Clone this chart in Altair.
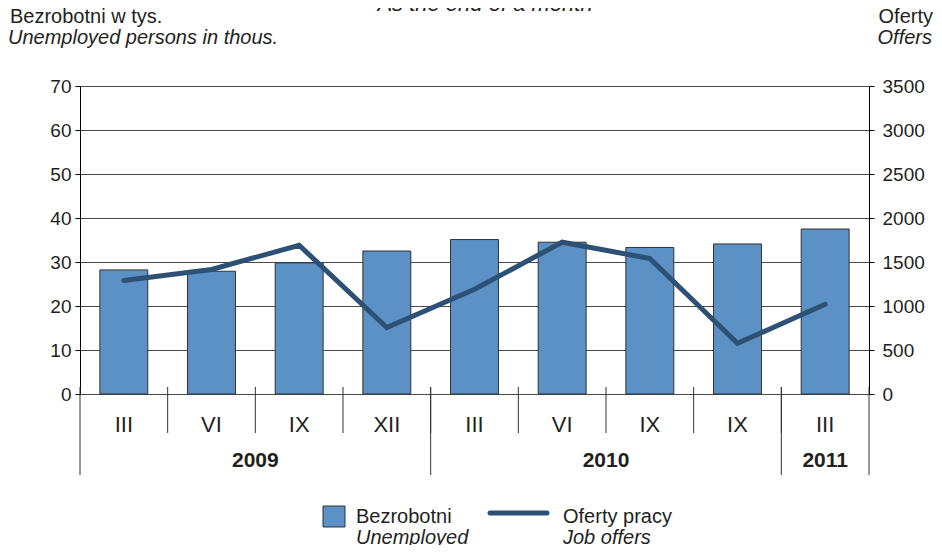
import altair as alt
import pandas as pd

# ---- data ----
keys = ["k1", "k2", "k3", "k4", "k5", "k6", "k7", "k8", "k9"]
months = ["III", "VI", "IX", "XII", "III", "VI", "IX", "IX", "III"]
unemployed = [28.2, 27.9, 29.8, 32.5, 35.1, 34.5, 33.3, 34.1, 37.5]
job_offers = [1290, 1415, 1690, 755, 1190, 1725, 1540, 575, 1020]
year_labels_mid = ["2009", "2010"]
year_keys_mid = ["k3", "k7"]          # label centred on the boundary before these
year_labels_ctr = ["2011"]
year_keys_ctr = ["k9"]                # label centred on this category
month_sep_keys = keys[1:]
year_sep_keys = ["k1", "k5", "k9"]
left_ticks = [0, 10, 20, 30, 40, 50, 60, 70]
right_ticks = [0, 500, 1000, 1500, 2000, 2500, 3000, 3500]

TXT = "#231f20"
BAR = "#5b91c5"
LINE = "#2d5175"
FONT = "Liberation Sans"

df = pd.DataFrame({"key": keys, "month": months, "unemp": unemployed, "offers": job_offers})

xscale = alt.Scale(paddingInner=0, paddingOuter=0)


def X(bp=None):
    if bp is None:
        return alt.X("key:N", sort=keys, scale=xscale, axis=None)
    return alt.X("key:N", sort=keys, scale=xscale, axis=None, bandPosition=bp)


bars = alt.Chart(df).mark_bar(
    width={"band": 0.547}, color=BAR, stroke="#333333", strokeWidth=1
).encode(
    x=X(),
    y=alt.Y(
        "unemp:Q",
        scale=alt.Scale(domain=[0, 70], nice=False),
        axis=alt.Axis(
            values=left_ticks, title=None, grid=True, gridColor="#4a4a4a", gridWidth=1,
            tickSize=5, labelPadding=4, domainColor="#000000", tickColor="#000000",
        ),
    ),
)

line = alt.Chart(df).mark_line(color=LINE, strokeWidth=5, strokeCap="round").encode(
    x=X(),
    y=alt.Y(
        "offers:Q",
        scale=alt.Scale(domain=[0, 3500], nice=False),
        axis=alt.Axis(
            orient="right", values=right_ticks, format="d", title=None, grid=False,
            tickSize=5, labelPadding=8, domainColor="#000000", tickColor="#000000",
        ),
    ),
)

month_text = alt.Chart(df).mark_text(fontSize=22, color=TXT, baseline="alphabetic").encode(
    x=X(), y=alt.value(346), text="month:N"
)

month_seps = alt.Chart(pd.DataFrame({"key": month_sep_keys})).mark_rule(color="#333333").encode(
    x=X(0), y=alt.value(301), y2=alt.value(347)
)
year_seps = alt.Chart(pd.DataFrame({"key": year_sep_keys})).mark_rule(color="#333333").encode(
    x=X(0), y=alt.value(301), y2=alt.value(389)
)
right_edge = alt.Chart(pd.DataFrame({"key": ["k9"]})).mark_rule(color="#333333").encode(
    x=X(1), y=alt.value(301), y2=alt.value(389)
)

year_mid = alt.Chart(pd.DataFrame({"key": year_keys_mid, "year": year_labels_mid})).mark_text(
    fontSize=21, fontWeight="bold", color=TXT, baseline="alphabetic"
).encode(x=X(0), y=alt.value(381), text="year:N")
year_ctr = alt.Chart(pd.DataFrame({"key": year_keys_ctr, "year": year_labels_ctr})).mark_text(
    fontSize=21, fontWeight="bold", color=TXT, baseline="alphabetic"
).encode(x=X(), y=alt.value(381), text="year:N")

one = pd.DataFrame({"a": [0]})


def label(txt, x, y, size=20, italic=False, align="left", weight="normal"):
    return alt.Chart(one).mark_text(
        fontSize=size, fontStyle="italic" if italic else "normal", align=align,
        baseline="alphabetic", color=TXT, fontWeight=weight,
    ).encode(x=alt.value(x), y=alt.value(y), text=alt.value(txt))


annotations = [
    label("As the end of a month", 405, -75, size=22, italic=True, align="center"),
    label("Bezrobotni w tys.", -70, -63),
    label("Unemployed persons in thous.", -72, -42, italic=True),
    label("Oferty", 853, -63, align="right"),
    label("Offers", 852, -42, italic=True, align="right"),
    label("Bezrobotni", 276, 437),
    label("Unemployed", 276, 458, italic=True),
    label("Oferty pracy", 483, 437),
    label("Job offers", 483, 458, italic=True),
]

legend_box = alt.Chart(one).mark_rect(color=BAR, stroke="#333333", strokeWidth=1).encode(
    x=alt.value(243), x2=alt.value(265), y=alt.value(420), y2=alt.value(441)
)
legend_line = alt.Chart(one).mark_rule(color=LINE, strokeWidth=5, strokeCap="round").encode(
    x=alt.value(410), x2=alt.value(467), y=alt.value(427)
)

chart = alt.layer(
    bars, line, month_seps, year_seps, right_edge, month_text, year_mid, year_ctr,
    legend_box, legend_line, *annotations
).resolve_scale(y="independent").properties(
    width=789, height=308,
    padding={"left": 72, "top": 78, "right": 65, "bottom": 151},
    autosize=alt.AutoSizeParams(type="none"),
).configure_view(stroke=None).configure(font=FONT).configure_axis(
    labelFont=FONT, labelFontSize=19, labelColor=TXT
)

chart.save("out.html", embed_options={"renderer": "svg", "actions": False})
